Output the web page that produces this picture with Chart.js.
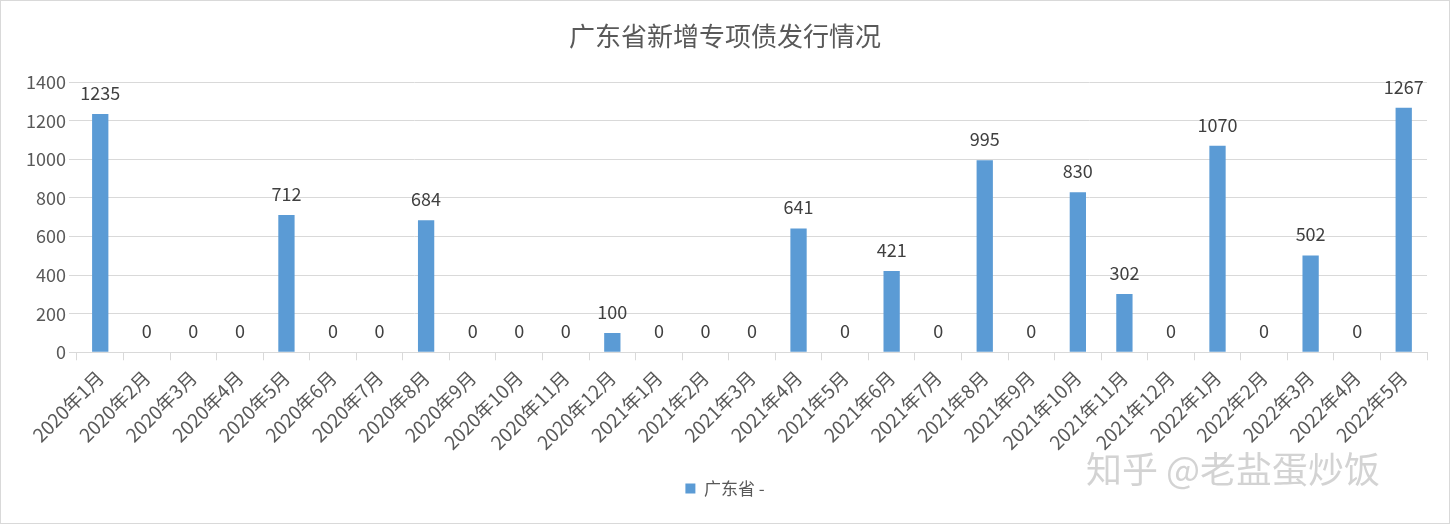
<!DOCTYPE html>
<html><head><meta charset="utf-8">
<script src="https://cdn.jsdelivr.net/npm/chart.js@4"></script>
<style>
body{margin:0;background:#fff;}
#wrap{position:relative;width:1448px;height:522px;border:1px solid #d9d9d9;}
#wm{position:absolute;left:1085px;top:440px;font:36px "Noto Sans CJK SC";color:rgba(200,200,200,0.8);}
</style></head><body>
<div id="wrap"><canvas id="c" width="1448" height="522"></canvas><div id="wm">知乎 @老盐蛋炒饭</div></div>
<script>
// 月份
const months = ['2020年1月','2020年2月','2020年3月','2020年4月','2020年5月','2020年6月','2020年7月','2020年8月','2020年9月','2020年10月','2020年11月','2020年12月',
  '2021年1月','2021年2月','2021年3月','2021年4月','2021年5月','2021年6月','2021年7月','2021年8月','2021年9月','2021年10月','2021年11月','2021年12月',
  '2022年1月','2022年2月','2022年3月','2022年4月','2022年5月'];
// 新增专项债发行额
const issued = [1235,0,0,0,712,0,0,684,0,0,0,100,0,0,0,641,0,421,0,995,0,830,302,0,1070,0,502,0,1267];
const seriesName = '广东省 -';
const chartTitle = '广东省新增专项债发行情况';

const FONT = '"Noto Sans CJK SC", "Noto Sans", sans-serif';

// 柱顶数值
const valueLabels = {
  id: 'valueLabels',
  afterDatasetsDraw(chart) {
    const ctx = chart.ctx;
    const meta = chart.getDatasetMeta(0);
    ctx.save();
    ctx.font = '18px ' + FONT;
    ctx.fillStyle = '#404040';
    ctx.textAlign = 'center';
    ctx.textBaseline = 'bottom';
    meta.data.forEach((bar, i) => {
      ctx.fillText(String(issued[i]), bar.x, bar.y - 12);
    });
    ctx.restore();
  }
};

new Chart(document.getElementById('c'), {
  type: 'bar',
  data: {
    labels: months,
    datasets: [{ label: seriesName, data: issued, backgroundColor: '#5B9BD5',
      barPercentage: 0.35, categoryPercentage: 1 }]
  },
  options: {
    responsive: false,
    animation: false,
    layout: { padding: { left: 22, right: 22, top: 6, bottom: 16 } },
    plugins: {
      title: { display: true, text: chartTitle, color: '#595959',
        font: { family: FONT, size: 26, weight: 'normal' }, padding: { top: 14, bottom: 30 } },
      legend: { position: 'bottom', labels: { color: '#595959', boxWidth: 10, boxHeight: 10,
        padding: 20, font: { family: FONT, size: 17 } } },
      tooltip: { enabled: false }
    },
    scales: {
      y: {
        min: 0, max: 1400,
        ticks: { stepSize: 200, color: '#595959', font: { family: FONT, size: 18 },
          callback: v => String(v) },
        grid: { color: '#d9d9d9' },
        border: { display: false }
      },
      x: {
        ticks: { color: '#595959', minRotation: 45, maxRotation: 45, autoSkip: false,
          padding: 6, font: { family: FONT, size: 19 } },
        grid: { display: true, drawOnChartArea: false, color: '#d9d9d9', tickLength: 8, offset: true },
        border: { color: '#d9d9d9' }
      }
    }
  },
  plugins: [valueLabels]
});
</script>
</body></html>
